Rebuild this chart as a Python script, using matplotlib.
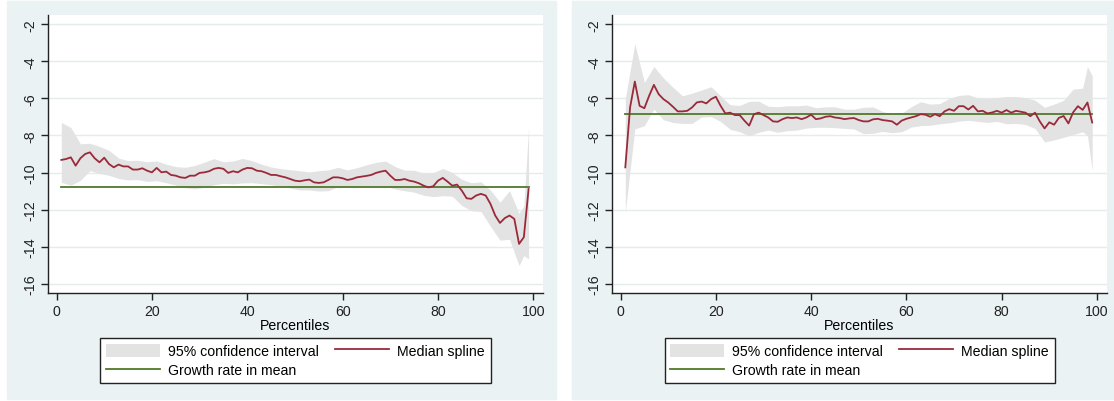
import matplotlib
matplotlib.use("Agg")
import matplotlib.pyplot as plt
from matplotlib.patches import Rectangle, Patch
from matplotlib.lines import Line2D

plt.rcParams['font.family'] = ['Liberation Sans', 'DejaVu Sans']

# percentiles 1..99 for the median splines
pct = list(range(1, 100))

left_median = [
    -9.32, -9.27, -9.18, -9.63, -9.23, -9.00, -8.91, -9.23, -9.45, -9.20,
    -9.54, -9.72, -9.57, -9.67, -9.67, -9.84, -9.84, -9.77, -9.90, -9.99,
    -9.75, -9.99, -9.95, -10.13, -10.17, -10.26, -10.29, -10.17, -10.17, -10.02,
    -9.99, -9.93, -9.80, -9.75, -9.80, -10.02, -9.93, -9.99, -9.84, -9.75,
    -9.77, -9.90, -9.93, -10.02, -10.13, -10.13, -10.20, -10.26, -10.35, -10.44,
    -10.47, -10.42, -10.38, -10.53, -10.56, -10.53, -10.40, -10.26, -10.26, -10.31,
    -10.40, -10.35, -10.26, -10.22, -10.18, -10.13, -10.02, -9.95, -9.90, -10.17,
    -10.40, -10.40, -10.35, -10.44, -10.49, -10.58, -10.71, -10.80, -10.74, -10.44,
    -10.29, -10.49, -10.71, -10.65, -10.98, -11.39, -11.42, -11.24, -11.15, -11.24,
    -11.69, -12.32, -12.72, -12.46, -12.32, -12.50, -13.85, -13.49, -10.89,
]

right_median = [
    -9.72, -6.49, -5.09, -6.40, -6.53, -5.86, -5.27, -5.77, -6.04, -6.22,
    -6.45, -6.70, -6.70, -6.67, -6.49, -6.22, -6.17, -6.27, -6.04, -5.91,
    -6.40, -6.81, -6.77, -6.90, -6.90, -7.20, -7.47, -6.85, -6.77, -6.90,
    -7.03, -7.24, -7.26, -7.12, -7.03, -7.06, -7.03, -7.12, -7.03, -6.88,
    -7.12, -7.08, -6.99, -6.96, -7.03, -7.06, -7.12, -7.08, -7.06, -7.17,
    -7.24, -7.24, -7.13, -7.10, -7.17, -7.20, -7.24, -7.42, -7.20, -7.10,
    -7.03, -6.96, -6.85, -6.88, -6.99, -6.85, -6.96, -6.70, -6.58, -6.67,
    -6.42, -6.42, -6.60, -6.40, -6.70, -6.67, -6.81, -6.76, -6.67, -6.77,
    -6.63, -6.77, -6.67, -6.72, -6.77, -6.96, -6.77, -7.24, -7.62, -7.29,
    -7.42, -7.05, -6.95, -7.35, -6.75, -6.42, -6.62, -6.22, -7.30,
]

# confidence band read at odd percentiles plus 98
ci_pct = list(range(1, 98, 2)) + [98, 99]

left_upper = [
    -7.30, -7.57, -8.45, -8.42, -8.59, -8.80, -9.22, -9.36, -9.34, -9.42,
    -9.37, -9.55, -9.68, -9.72, -9.62, -9.44, -9.25, -9.42, -9.38, -9.24,
    -9.36, -9.55, -9.70, -9.79, -9.85, -9.90, -9.97, -9.90, -9.86, -9.72,
    -9.86, -9.74, -9.58, -9.45, -9.38, -9.68, -9.87, -9.88, -10.03, -10.01,
    -9.78, -10.00, -10.37, -10.55, -10.50, -10.95, -11.60, -10.98, -12.20,
    -11.80, -7.57,
]
left_lower = [
    -10.53, -10.68, -10.42, -9.90, -10.05, -10.15, -10.32, -10.40, -10.38, -10.48,
    -10.44, -10.55, -10.68, -10.82, -10.88, -10.80, -10.66, -10.58, -10.61, -10.56,
    -10.55, -10.60, -10.66, -10.74, -10.84, -10.94, -10.94, -11.00, -10.98, -10.76,
    -10.76, -10.75, -10.75, -10.72, -10.74, -10.89, -10.98, -11.06, -11.23, -11.30,
    -11.25, -11.28, -11.78, -12.06, -12.10, -12.90, -13.65, -13.60, -15.02,
    -14.48, -14.66,
]

right_upper = [
    -6.00, -3.04, -5.14, -4.28, -4.90, -5.40, -5.86, -5.72, -5.55, -5.37,
    -5.86, -6.34, -6.38, -6.16, -6.15, -6.42, -6.45, -6.40, -6.40, -6.36,
    -6.50, -6.46, -6.45, -6.58, -6.58, -6.48, -6.46, -6.70, -6.86, -6.80,
    -6.45, -6.18, -6.31, -6.28, -6.00, -5.84, -5.80, -5.98, -5.99, -5.95,
    -5.90, -5.90, -5.96, -6.10, -6.48, -6.31, -6.10, -5.50, -5.45,
    -4.28, -4.78,
]
right_lower = [
    -12.14, -7.65, -7.47, -6.58, -7.15, -7.30, -7.35, -7.35, -7.01, -6.98,
    -7.24, -7.67, -7.80, -8.02, -7.83, -7.71, -7.83, -7.74, -7.71, -7.60,
    -7.56, -7.56, -7.58, -7.62, -7.65, -7.90, -7.88, -7.78, -7.85, -7.80,
    -7.55, -7.47, -7.45, -7.37, -7.32, -7.23, -7.18, -7.24, -7.30, -7.24,
    -7.37, -7.35, -7.41, -7.62, -8.35, -8.24, -8.10, -7.95, -7.80,
    -8.00, -9.90,
]

# growth rate in mean (horizontal line)
left_mean = -10.77
right_mean = -6.86

x_ticks = [0, 20, 40, 60, 80, 100]
y_ticks = [-2, -4, -6, -8, -10, -12, -14, -16]

BG = '#eaf2f3'
CI_COLOR = '#e3e3e3'
MED_COLOR = '#9a2a3a'
MEAN_COLOR = '#4f7a28'
GRID = '#e4eced'
FS = 10.2


def draw_panel(fig, rect, median, upper, lower, mean):
    ax = fig.add_axes(rect)
    ax.set_facecolor('white')
    ax.fill_between(ci_pct, lower, upper, color=CI_COLOR, linewidth=0, zorder=1)
    ax.plot(pct, median, color=MED_COLOR, linewidth=1.3, zorder=3)
    ax.plot([pct[0], pct[-1]], [mean, mean], color=MEAN_COLOR, linewidth=1.3, zorder=2)

    ax.set_xlim(-1.75, 102)
    ax.set_ylim(-16.5, -1.5)
    ax.set_xticks(x_ticks)
    ax.set_yticks(y_ticks)
    ax.set_yticklabels([str(v) for v in y_ticks], rotation=90, va='center')
    for t in y_ticks:
        ax.axhline(t, color=GRID, linewidth=1.0, zorder=0)

    for side in ['top', 'right']:
        ax.spines[side].set_visible(False)
    for side in ['left', 'bottom']:
        ax.spines[side].set_color('#222222')
        ax.spines[side].set_linewidth(1.0)
    ax.tick_params(direction='out', length=5, width=1, colors='#222222',
                   labelsize=FS, pad=3)
    ax.set_xlabel('Percentiles', fontsize=FS, labelpad=0)
    return ax


def add_legend(fig, x0, y0, w, h):
    handles = [
        Patch(facecolor=CI_COLOR, edgecolor='none'),
        Line2D([], [], color=MEAN_COLOR, linewidth=1.3),
        Line2D([], [], color=MED_COLOR, linewidth=1.3),
    ]
    labels = ['95% confidence interval', 'Growth rate in mean', 'Median spline']
    leg = fig.legend(handles, labels, ncol=2, loc='center', mode='expand',
                     bbox_to_anchor=(x0 / 1114, 1 - (y0 + h) / 402, w / 1114, h / 402),
                     fontsize=FS, frameon=True, fancybox=False, framealpha=1,
                     edgecolor='#222222', handlelength=3.8, handleheight=1.0,
                     handletextpad=0.6, borderpad=0.4, labelspacing=0.35,
                     columnspacing=2.0, borderaxespad=0)
    leg.get_frame().set_linewidth(1.0)
    return leg


fig = plt.figure(figsize=(11.14, 4.02), dpi=100)
fig.patch.set_facecolor('white')
fig.add_artist(Rectangle((7 / 1114, 2 / 402), 549 / 1114, 398 / 402,
                         transform=fig.transFigure, color=BG, zorder=-10))
fig.add_artist(Rectangle((572 / 1114, 2 / 402), 542 / 1114, 398 / 402,
                         transform=fig.transFigure, color=BG, zorder=-10))

draw_panel(fig, [48.2 / 1114, 108 / 402, 494.7 / 1114, 278 / 402],
           left_median, left_upper, left_lower, left_mean)
draw_panel(fig, [612.2 / 1114, 108 / 402, 494.3 / 1114, 278 / 402],
           right_median, right_upper, right_lower, right_mean)

add_legend(fig, 100.5, 339, 390, 45)
add_legend(fig, 664.5, 339, 390, 45)

fig.savefig('out.png', dpi=100, facecolor=fig.get_facecolor())
